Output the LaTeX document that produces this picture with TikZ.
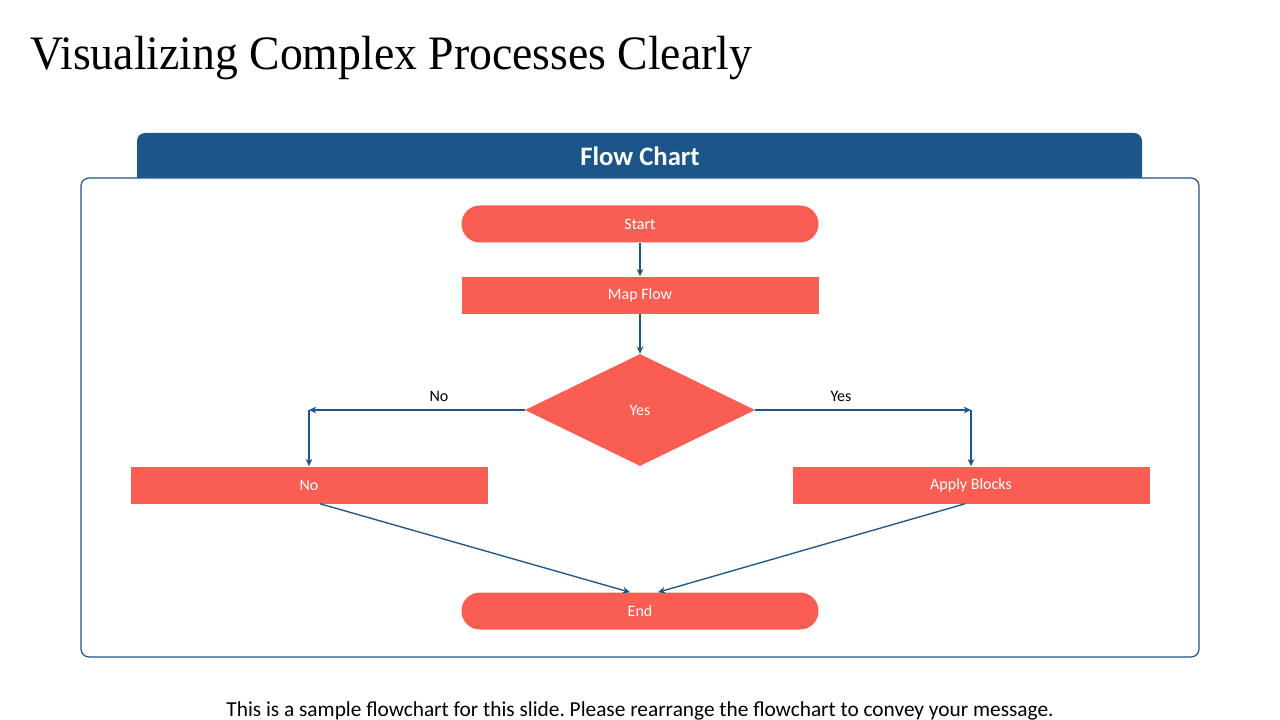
\documentclass[tikz,border=0pt]{standalone}
\usepackage{fontspec}
\setmainfont{Carlito}
\newfontfamily\titlefont[FakeStretch=0.952]{Liberation Serif}
\usepackage{tikz}
\usetikzlibrary{shapes,arrows.meta,positioning,calc}

\definecolor{chartblue}{RGB}{27,85,137}
\definecolor{coral}{RGB}{250,94,82}

\begin{document}
\frenchspacing
\begin{tikzpicture}[x=0.75pt, y=-0.75pt,
    box/.style={fill=coral, text=white, font=\fontsize{12}{14}\selectfont,
                minimum width=267.75pt, minimum height=27.75pt, inner sep=0pt},
    pill/.style={box, rounded corners=13.8pt},
    choice/.style={diamond, fill=coral, text=white, font=\fontsize{12}{14}\selectfont,
                minimum width=172.5pt, minimum height=84pt, inner sep=0pt},
    flow/.style={chartblue, line width=1pt, -{Stealth[length=5.5pt,width=5pt]}},
    lbl/.style={font=\fontsize{12}{14}\selectfont}]
    \useasboundingbox (0,0) rectangle (1280,720);

    % Title
    \node[anchor=base west, inner sep=0pt, font=\titlefont\fontsize{36}{40}\selectfont] (title) at (30,70) {Visualizing Complex Processes Clearly};

    % Header tab and frame
    \fill[chartblue, rounded corners=6pt] (137,133) rectangle (1142,195);
    \draw[chartblue, fill=white, line width=0.9pt, rounded corners=6pt] (81,178) rectangle (1199,657);
    \node[text=white, font=\bfseries\fontsize{20}{24}\selectfont] (header) at (640,156) {Flow Chart};

    % Flow chart nodes
    \node[pill] (start) at (640,224) {Start};
    \node[box] (mapflow) at (640,295) {Map Flow};
    \node[choice] (decide) at (640,410) {Yes};
    \node[box] (nobox) at (309,485) {No};
    \node[box] (apply) at (971,485) {Apply Blocks};
    \node[pill] (finish) at (640,611) {End};
    \coordinate (lturn) at (309,410);
    \coordinate (rturn) at (971,410);

    % Connectors
    \draw[flow] (start) -- (mapflow);
    \draw[flow] (mapflow) -- (decide);
    \draw[flow] (decide.west) -- (lturn);
    \draw[flow] (lturn) -- (nobox);
    \draw[flow] (decide.east) -- (rturn);
    \draw[flow] (rturn) -- (apply);
    \draw[flow] ($(nobox.south)+(11,0)$) -- ($(finish.north)+(-10,0)$);
    \draw[flow] ($(apply.south)+(-6,0)$) -- ($(finish.north)+(18,0)$);

    % Branch labels
    \node[lbl] (nolbl) at (439,396) {No};
    \node[lbl] (yeslbl) at (841,396) {Yes};

    % Note
    \node[anchor=base, inner sep=0pt, font=\fontsize{16}{18}\selectfont] (note) at (640,716) {This is a sample flowchart for this slide. Please rearrange the flowchart to convey your message.};
\end{tikzpicture}
\end{document}
